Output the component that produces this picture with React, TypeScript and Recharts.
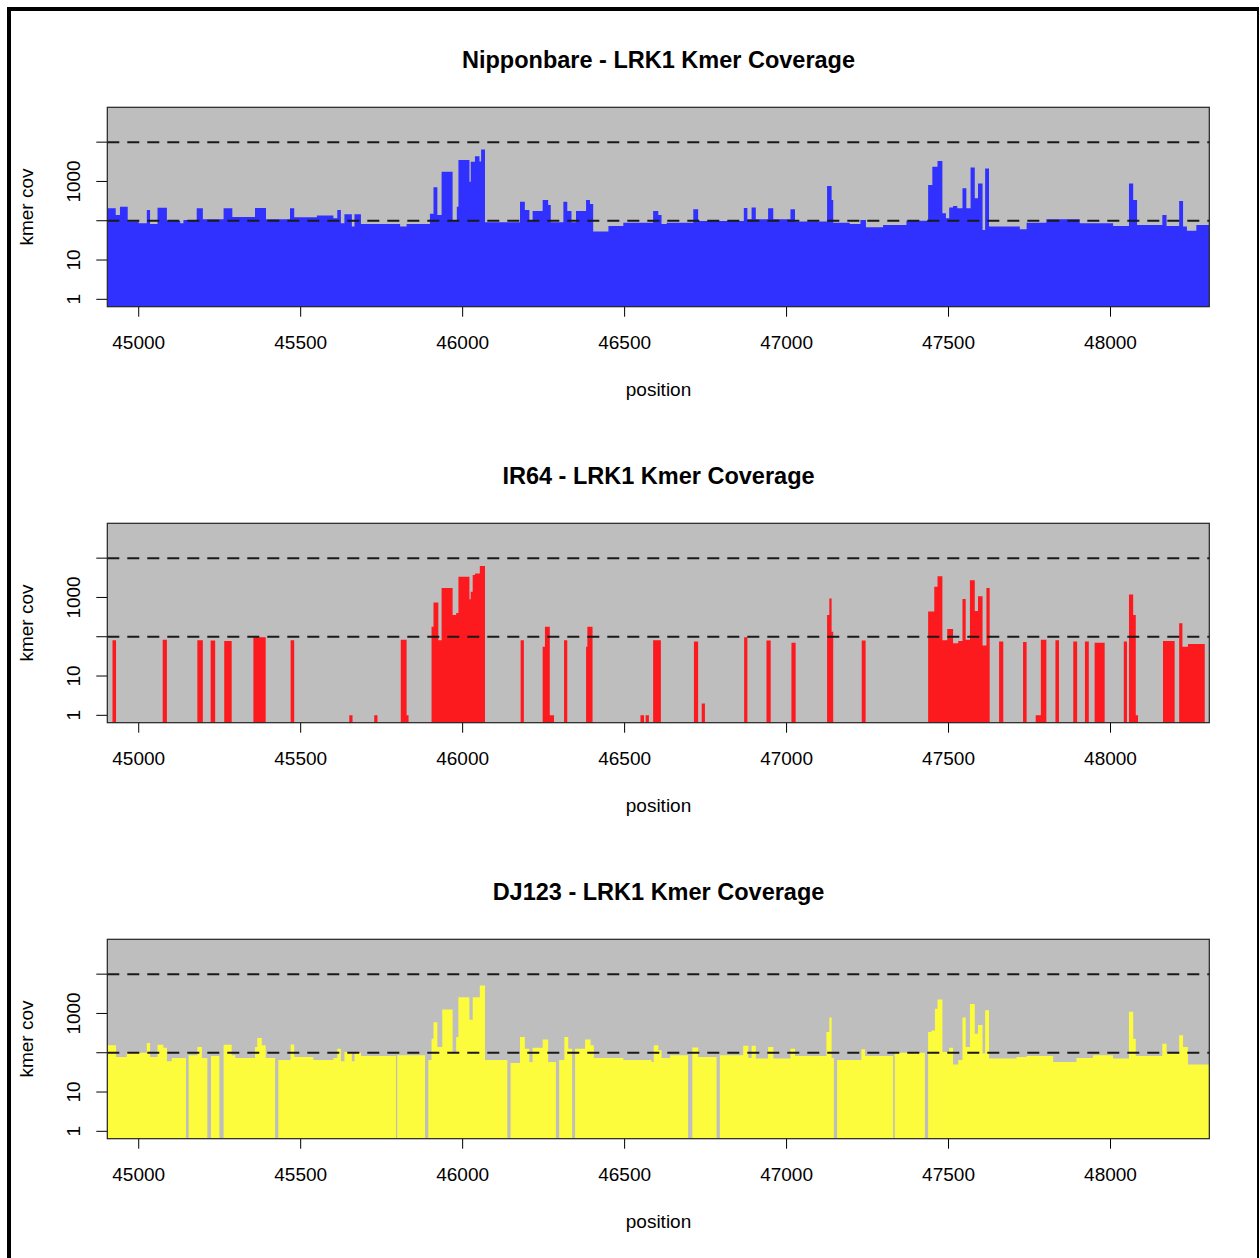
import { AreaChart, Area, XAxis, YAxis, CartesianGrid, ReferenceLine } from "recharts";

/* axis ranges and ticks */
const X_MIN = 44903;
const X_MAX = 48305;
const Y_MIN = 0.649;
const Y_MAX = 77100;
const X_TICKS = [45000, 45500, 46000, 46500, 47000, 47500, 48000];
const Y_TICKS = [1, 10, 100, 1000, 10000];
const Y_LABELED = [1, 10, 1000];
const CUTOFFS = [100, 10000];

/* Nipponbare: step breakpoints (position) and kmer coverage from that point on */
const nbPos = [
  44904, 44929, 44942, 44966, 45000, 45025, 45035, 45058, 45087, 45128, 45138, 45179, 45198, 45262,
  45289, 45359, 45393, 45467, 45480, 45550, 45601, 45613, 45624, 45635, 45658, 45666, 45686, 45807,
  45827, 45899, 45910, 45922, 45935, 45969, 45982, 45987, 46021, 46025, 46038, 46052, 46057, 46069,
  46177, 46192, 46206, 46216, 46247, 46264, 46272, 46311, 46323, 46336, 46350, 46381, 46393, 46403,
  46450, 46496, 46588, 46604, 46614, 46630, 46712, 46727, 46868, 46879, 46892, 46905, 46943, 46959,
  47012, 47026, 47125, 47139, 47144, 47195, 47228, 47245, 47298, 47370, 47437, 47450, 47466, 47481,
  47492, 47502, 47514, 47527, 47543, 47555, 47568, 47581, 47591, 47605, 47613, 47625, 47720, 47741,
  47802, 47905, 48008, 48057, 48070, 48082, 48160, 48173, 48212, 48224, 48236, 48265, 48305,
];
const nbCov = [
  208, 140, 228, 95, 86, 188, 83, 215, 98, 86, 105, 208, 109, 208,
  125, 212, 109, 208, 123, 135, 116, 188, 86, 146, 71, 146, 83, 71,
  83, 150, 708, 140, 1760, 100, 228, 3490, 980, 3160, 4400, 3200, 6500, 91,
  305, 188, 105, 177, 337, 250, 91, 305, 177, 91, 177, 337, 267, 53,
  74, 89, 177, 140, 83, 89, 196, 98, 211, 109, 218, 109, 208, 109,
  196, 95, 764, 337, 89, 83, 105, 68, 78, 100, 810, 2360, 3300, 155,
  116, 218, 237, 208, 670, 208, 2280, 372, 890, 58, 2150, 71, 61, 89,
  109, 86, 74, 890, 337, 78, 140, 74, 318, 71, 56, 78, 78,
];

/* IR64 */
const irPos = [
  44904, 44919, 44930, 45074, 45087, 45181, 45198, 45222, 45236, 45264, 45287, 45354, 45392, 45469,
  45480, 45650, 45660, 45727, 45737, 45809, 45827, 45833, 45904, 45910, 45925, 45935, 45969, 45980,
  45987, 46021, 46025, 46031, 46038, 46053, 46069, 46179, 46189, 46247, 46254, 46269, 46282, 46313,
  46323, 46381, 46385, 46401, 46549, 46560, 46565, 46575, 46588, 46612, 46714, 46727, 46738, 46748,
  46869, 46879, 46938, 46951, 47015, 47028, 47125, 47132, 47139, 47144, 47232, 47244, 47437, 47456,
  47466, 47481, 47496, 47514, 47530, 47543, 47553, 47566, 47581, 47591, 47605, 47617, 47627, 47656,
  47669, 47730, 47741, 47769, 47785, 47802, 47830, 47841, 47885, 47897, 47921, 47933, 47951, 47982,
  48041, 48051, 48057, 48070, 48078, 48085, 48162, 48198, 48212, 48222, 48239, 48291, 48305,
];
const irCov = [
  0, 82, 0, 84, 0, 82, 0, 80, 0, 78, 0, 97, 0, 82,
  0, 1, 0, 1, 0, 84, 1, 0, 180, 747, 82, 1750, 355, 400,
  3340, 900, 1390, 3700, 4050, 6340, 0, 82, 0, 56, 180, 1, 0, 82,
  0, 56, 180, 0, 1, 0, 1, 0, 82, 0, 76, 0, 2, 0,
  97, 0, 80, 0, 70, 0, 355, 944, 134, 0, 80, 0, 440, 1860,
  3470, 82, 157, 68, 78, 908, 84, 2750, 450, 1080, 60, 1750, 0, 76,
  0, 73, 0, 1, 84, 0, 82, 0, 76, 0, 76, 0, 70, 0,
  76, 0, 1190, 355, 1, 0, 78, 0, 219, 56, 65, 0, 0,
];

/* DJ123 */
const djPos = [
  44904, 44930, 44963, 45025, 45035, 45058, 45076, 45087, 45102, 45146, 45154, 45181, 45195, 45212,
  45223, 45249, 45262, 45287, 45298, 45359, 45366, 45380, 45392, 45421, 45431, 45469, 45480, 45539,
  45601, 45613, 45624, 45635, 45658, 45666, 45686, 45794, 45798, 45884, 45894, 45904, 45910, 45922,
  45937, 45969, 45980, 45987, 46021, 46031, 46053, 46069, 46138, 46148, 46177, 46192, 46206, 46216,
  46247, 46264, 46288, 46298, 46314, 46326, 46338, 46347, 46378, 46395, 46405, 46496, 46583, 46590,
  46604, 46614, 46640, 46696, 46709, 46727, 46784, 46794, 46866, 46882, 46892, 46905, 46943, 46959,
  47012, 47026, 47123, 47132, 47139, 47146, 47156, 47231, 47242, 47329, 47334, 47427, 47437, 47447,
  47458, 47466, 47481, 47502, 47514, 47530, 47543, 47553, 47566, 47581, 47591, 47605, 47613, 47625,
  47710, 47741, 47823, 47895, 47946, 48008, 48057, 48070, 48078, 48160, 48173, 48212, 48224, 48239,
  48305,
];
const djCov = [
  154, 78, 100, 177, 78, 160, 133, 61, 74, 0, 86, 140, 74, 0,
  83, 0, 160, 86, 74, 140, 236, 154, 74, 0, 65, 163, 78, 65,
  74, 127, 61, 105, 61, 100, 83, 0, 86, 0, 65, 227, 601, 140,
  1260, 105, 250, 2590, 690, 2590, 5130, 65, 0, 55, 250, 127, 58, 133,
  218, 58, 0, 65, 250, 127, 0, 127, 218, 154, 74, 65, 58, 154,
  116, 74, 86, 0, 135, 78, 0, 86, 150, 74, 150, 71, 140, 71,
  127, 83, 335, 790, 74, 0, 65, 122, 83, 0, 100, 0, 335, 370,
  1320, 2260, 105, 133, 50, 65, 790, 140, 1750, 303, 510, 95, 1200, 71,
  78, 83, 58, 74, 86, 71, 1100, 227, 83, 169, 95, 277, 140, 50,
  50,
];

const FONT = '"Liberation Sans", Arial, Helvetica, sans-serif';

const panels = [
  { title: "Nipponbare - LRK1 Kmer Coverage", pos: nbPos, cov: nbCov, color: "#3030FF" },
  { title: "IR64 - LRK1 Kmer Coverage", pos: irPos, cov: irCov, color: "#FC1A1F" },
  { title: "DJ123 - LRK1 Kmer Coverage", pos: djPos, cov: djCov, color: "#FCFC3C" },
];

const PANEL_H = 416;
const PLOT_L = 107.3;
const PLOT_R = 1209.3;
const PLOT_T = 107.3;
const PLOT_B = 306.7;

/* rotated y tick label, only some ticks carry text */
const YTick = (props: any) => {
  const { x, y, payload } = props;
  if (!Y_LABELED.includes(payload.value)) return null;
  return (
    <text
      transform={`translate(${x - 14},${y}) rotate(-90)`}
      textAnchor="middle"
      fontSize={19}
      fontFamily={FONT}
      fill="#000"
    >
      {payload.value}
    </text>
  );
};

const Panel = ({ idx }: { idx: number }) => {
  const p = panels[idx];
  /* zero coverage sits on the axis floor (log scale) */
  const rows = p.pos.map((x, i) => ({ pos: x, cov: Math.max(p.cov[i], Y_MIN) }));
  return (
    <div style={{ position: "absolute", left: 0, top: idx * PANEL_H, width: 1260, height: PANEL_H }}>
      <AreaChart
        width={1260}
        height={PANEL_H}
        data={rows}
        margin={{ top: PLOT_T, right: 1260 - PLOT_R, bottom: PANEL_H - PLOT_B - 60, left: PLOT_L - 60 }}
      >
        <CartesianGrid fill="#BEBEBE" horizontal={false} vertical={false} />
        <XAxis
          dataKey="pos"
          type="number"
          domain={[X_MIN, X_MAX]}
          ticks={X_TICKS}
          interval={0}
          allowDataOverflow
          axisLine={false}
          tickSize={10}
          tickMargin={19}
          height={60}
          tickLine={{ stroke: "#000" }}
          tick={{ fontSize: 19, fill: "#000", fontFamily: FONT }}
        />
        <YAxis
          type="number"
          scale="log"
          domain={[Y_MIN, Y_MAX]}
          ticks={Y_TICKS}
          interval={0}
          allowDataOverflow
          axisLine={false}
          tickSize={11}
          width={60}
          tickLine={{ stroke: "#000" }}
          tick={<YTick />}
        />
        <Area
          type="stepAfter"
          dataKey="cov"
          baseValue={Y_MIN}
          fill={p.color}
          fillOpacity={1}
          stroke="none"
          dot={false}
          activeDot={false}
          isAnimationActive={false}
        />
        {CUTOFFS.map((c) => (
          <ReferenceLine key={c} y={c} stroke="#1a1a1a" strokeWidth={2} strokeDasharray="12 8" />
        ))}
      </AreaChart>
    </div>
  );
};

export default function App() {
  return (
    <div style={{ position: "relative", width: 1260, height: 1258, overflow: "hidden", background: "#fff" }}>
      <style>{"html,body{margin:0;padding:0;overflow:hidden;background:#fff}"}</style>
      {panels.map((_, i) => (
        <Panel key={i} idx={i} />
      ))}
      <svg
        width={1260}
        height={1258}
        style={{ position: "absolute", left: 0, top: 0, pointerEvents: "none" }}
      >
        {panels.map((p, i) => {
          const off = i * PANEL_H;
          return (
            <g key={i}>
              <rect
                x={PLOT_L}
                y={PLOT_T + off}
                width={PLOT_R - PLOT_L}
                height={PLOT_B - PLOT_T}
                fill="none"
                stroke="#222"
                strokeWidth={1.2}
              />
              <text x={658.5} y={68.4 + off} textAnchor="middle" fontSize={23.5} fontWeight="bold" fontFamily={FONT} fill="#000">
                {p.title}
              </text>
              <text x={658.5} y={396 + off} textAnchor="middle" fontSize={19} fontFamily={FONT} fill="#000">
                position
              </text>
              <text
                transform={`translate(33,${(PLOT_T + PLOT_B) / 2 + off}) rotate(-90)`}
                textAnchor="middle"
                fontSize={19}
                fontFamily={FONT}
                fill="#000"
              >
                kmer cov
              </text>
            </g>
          );
        })}
      </svg>
      <div
        style={{
          position: "absolute",
          left: 7,
          top: 7,
          width: 1252,
          height: 1300,
          boxSizing: "border-box",
          borderLeft: "4px solid #000",
          borderTop: "4px solid #000",
          borderRight: "2px solid #000",
          pointerEvents: "none",
        }}
      />
    </div>
  );
}
